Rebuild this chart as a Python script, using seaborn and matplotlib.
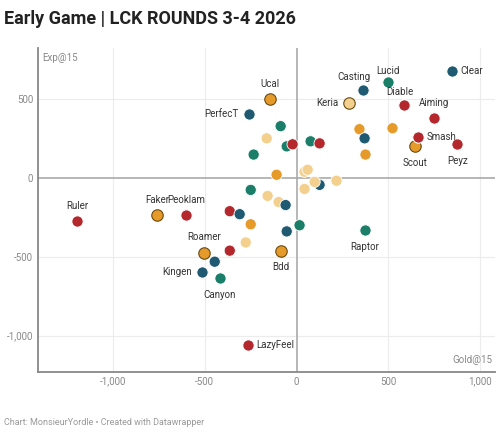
import pandas as pd
import seaborn as sns
import matplotlib.pyplot as plt
from matplotlib.ticker import FuncFormatter

# Gold@15 / Exp@15 differences
players = ['Clear', 'Lucid', 'Casting', 'Diable', 'Keria', 'Ucal', 'PerfecT', 'Aiming', 'Smash', 'Scout', 'Peyz',
           '', '', '', '', '', '', '', '', '', '', '',
           '', '', '', '', '', '', '', '', '', '', '',
           'Ruler', 'Faker', 'Peoklam', '', '', '', '', '', 'Raptor', '', 'Roamer', '', 'Bdd', '', 'Kingen', 'Canyon', 'LazyFeel']
gold = [848, 495, 359, 587, 283, -147, -261, 750, 663, 647, 875,
        -87, -163, -234, -54, -22, 76, 125, 342, 370, 522, 375,
        -109, 43, 60, 125, 43, 217, 98, -250, -158, -98, -60,
        -1196, -761, -603, -364, -310, -250, 16, -54, 370, -277, -505, -364, -87, -446, -516, -418, -266]
exp = [679, 609, 558, 462, 474, 500, 404, 378, 256, 199, 212,
       327, 250, 147, 199, 212, 231, 218, 308, 250, 314, 147,
       19, 38, 51, -45, -71, -19, -26, -77, -115, -154, -173,
       -276, -237, -237, -212, -231, -295, -301, -340, -333, -410, -474, -462, -462, -532, -596, -635, -1058]
group = ['blue', 'green', 'blue', 'red', 'light', 'orange', 'blue', 'red', 'red', 'orange', 'red',
         'green', 'light', 'green', 'green', 'red', 'green', 'red', 'orange', 'blue', 'orange', 'orange',
         'orange', 'light', 'light', 'blue', 'light', 'light', 'light', 'green', 'light', 'light', 'blue',
         'red', 'orange', 'red', 'red', 'blue', 'orange', 'green', 'blue', 'green', 'light', 'orange', 'red', 'orange', 'blue', 'blue', 'green', 'red']

palette = {'blue': '#1f5a72', 'green': '#1b7e69', 'red': '#b3272d', 'orange': '#e59a2a', 'light': '#f4d08f'}

# label offsets in points (dx, dy, ha)
label_pos = {
    'Clear': (6, 0, 'left'), 'Lucid': (0, 8, 'center'), 'Casting': (-6, 9, 'center'),
    'Diable': (-3, 9, 'center'), 'Keria': (-7, 0, 'right'), 'Ucal': (0, 11, 'center'),
    'PerfecT': (-7, 0, 'right'), 'Aiming': (0, 11, 'center'), 'Smash': (6, 0, 'left'),
    'Scout': (0, -12, 'center'), 'Peyz': (0, -12, 'center'), 'Ruler': (0, 11, 'center'),
    'Faker': (0, 11, 'center'), 'Peoklam': (0, 11, 'center'), 'Raptor': (0, -12, 'center'),
    'Roamer': (0, 11, 'center'), 'Bdd': (0, -12, 'center'), 'Kingen': (-7, 0, 'right'),
    'Canyon': (0, -12, 'center'), 'LazyFeel': (6, 0, 'left'),
}

df = pd.DataFrame({'player': players, 'gold': gold, 'exp': exp, 'group': group})

sns.set_style('white')
plt.rcParams['font.family'] = ['Roboto', 'DejaVu Sans']
fig = plt.figure(figsize=(5, 4.4), dpi=100)
ax = fig.add_axes([0.076, 0.155, 0.914, 0.735])

ax.axhline(0, color='#aaaaaa', lw=1.2, zorder=1)
ax.axvline(0, color='#aaaaaa', lw=1.2, zorder=1)
for v in [-1000, -500, 500, 1000]:
    ax.axvline(v, color='#ececec', lw=0.8, zorder=0)
for v in [-1000, -500, 500]:
    ax.axhline(v, color='#ececec', lw=0.8, zorder=0)

named = df['player'] != ''
sns.scatterplot(data=df[~named], x='gold', y='exp', hue='group', palette=palette,
                s=65, edgecolor='white', linewidth=0.6, legend=False, ax=ax, zorder=3)
for g, sub in df[named].groupby('group'):
    edge = '#6a4a12' if g in ('orange', 'light') else 'white'
    sns.scatterplot(data=sub, x='gold', y='exp', color=palette[g], s=68,
                    edgecolor=edge, linewidth=0.8, legend=False, ax=ax, zorder=4)

for _, r in df[named].iterrows():
    dx, dy, ha = label_pos[r['player']]
    ax.annotate(r['player'], (r['gold'], r['exp']), xytext=(dx, dy), textcoords='offset points',
                ha=ha, va='center', fontsize=7, color='#333333', zorder=5)

ax.set_xlim(-1408, 1080)
ax.set_ylim(-1230, 820)
ax.set_xticks([-1000, -500, 0, 500, 1000])
ax.set_yticks([-1000, -500, 0, 500])
fmt = FuncFormatter(lambda v, p: f'{int(v):,}')
ax.xaxis.set_major_formatter(fmt)
ax.yaxis.set_major_formatter(fmt)
ax.tick_params(labelsize=7, colors='#888888', length=0)
ax.set_xlabel('')
ax.set_ylabel('')
for s in ['top', 'right']:
    ax.spines[s].set_visible(False)
for s in ['left', 'bottom']:
    ax.spines[s].set_color('#888888')
    ax.spines[s].set_linewidth(1.3)

ax.text(0.01, 0.985, 'Exp@15', transform=ax.transAxes, fontsize=7, color='#888888', va='top')
ax.text(0.995, 0.02, 'Gold@15', transform=ax.transAxes, fontsize=7, color='#888888', ha='right', va='bottom')

fig.text(0.008, 0.945, 'Early Game | LCK ROUNDS 3-4 2026', fontsize=13, fontweight='bold', color='#222222')
fig.text(0.008, 0.035, 'Chart: MonsieurYordle • Created with Datawrapper', fontsize=6.5, color='#999999')

plt.savefig('out.png', dpi=100)
